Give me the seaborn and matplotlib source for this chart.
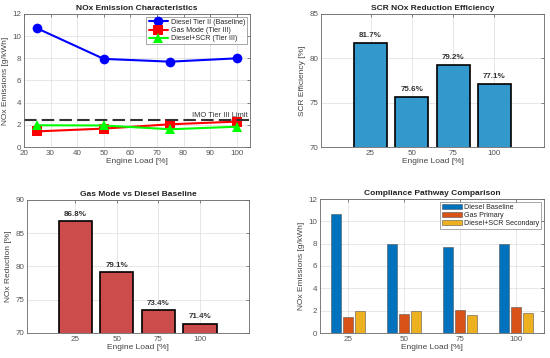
import numpy as np
import pandas as pd
import matplotlib
matplotlib.use('Agg')
import matplotlib.pyplot as plt
import seaborn as sns

# Data
loads = [25, 50, 75, 100]
diesel_nox = [10.7, 7.95, 7.7, 8.0]
gas_nox = [1.41, 1.66, 2.05, 2.29]
scr_nox = [1.96, 1.94, 1.60, 1.83]
imo_limit = 2.4
scr_eff = [81.7, 75.6, 79.2, 77.1]
gas_red = [86.8, 79.1, 73.4, 71.4]

sns.set_style('white')
plt.rcParams['font.family'] = ['Liberation Sans', 'DejaVu Sans']
plt.rcParams['axes.edgecolor'] = '#666666'
plt.rcParams['axes.linewidth'] = 0.6

fig = plt.figure(figsize=(5.5, 3.58), dpi=100)
W, H = 550, 358
def add_ax(l, t, r, b):
    return fig.add_axes([l / W, 1 - b / H, (r - l) / W, (b - t) / H])

ax1 = add_ax(24, 14, 250, 147)
ax2 = add_ax(321, 14, 544, 147)
ax3 = add_ax(27, 200, 249, 333)
ax4 = add_ax(320, 199, 544, 333)

def style(ax, title, xlabel, ylabel):
    ax.set_title(title, fontsize=6, fontweight='bold', pad=3, color='#222222')
    ax.set_xlabel(xlabel, fontsize=6, color='#444444', labelpad=1)
    ax.set_ylabel(ylabel, fontsize=6, color='#444444', labelpad=2)
    ax.tick_params(labelsize=5.8, colors='#555555', direction='in', length=2, width=0.5,
                   top=True, right=True, pad=2)
    ax.grid(True, color='#dddddd', linewidth=0.5)
    ax.set_axisbelow(True)

# Panel 1: line chart
df1 = pd.DataFrame({'load': loads * 3,
                    'nox': diesel_nox + gas_nox + scr_nox,
                    'mode': ['Diesel Tier II (Baseline)'] * 4 + ['Gas Mode (Tier III)'] * 4
                            + ['Diesel+SCR (Tier III)'] * 4})
sns.lineplot(data=df1, x='load', y='nox', hue='mode', style='mode',
             palette=['#0000ff', '#ff0000', '#00ff00'], markers=['o', 's', '^'],
             dashes=False, linewidth=1.5, markersize=7, markeredgewidth=0, ax=ax1)
ax1.axhline(imo_limit, color='#333333', linestyle='--', linewidth=1.5, dashes=(6, 2.5))
ax1.text(83, imo_limit + 0.42, 'IMO Tier III Limit', fontsize=5.4, color='#333333',
         va='center', zorder=5)
ax1.set_xlim(20, 105)
ax1.set_ylim(0, 12)
ax1.set_xticks(range(20, 101, 10))
ax1.set_yticks(range(0, 13, 2))
style(ax1, 'NOx Emission Characteristics', 'Engine Load [%]', 'NOx Emissions [g/kWh]')
leg = ax1.legend(loc='upper right', fontsize=5.1, frameon=True, fancybox=False,
                 edgecolor='#666666', borderpad=0.3, labelspacing=0.15, handlelength=2.8,
                 handletextpad=0.3, borderaxespad=0.4)
leg.get_frame().set_linewidth(0.5)

# Panel 2: SCR efficiency
sns.barplot(x=[str(l) for l in loads], y=scr_eff, color='#3399cc', saturation=1,
            width=0.8, edgecolor='black', linewidth=1.2, ax=ax2)
for i, v in enumerate(scr_eff):
    ax2.text(i, v + 0.5, f'{v:.1f}%', ha='center', va='bottom', fontsize=5.8,
             fontweight='bold', color='#333333')
ax2.set_xlim(-1.2, 4.2)
ax2.set_ylim(70, 85)
ax2.set_yticks([70, 75, 80, 85])
style(ax2, 'SCR NOx Reduction Efficiency', 'Engine Load [%]', 'SCR Efficiency [%]')

# Panel 3: gas vs diesel
sns.barplot(x=[str(l) for l in loads], y=gas_red, color='#cc4c4c', saturation=1,
            width=0.8, edgecolor='black', linewidth=1.2, ax=ax3)
for i, v in enumerate(gas_red):
    ax3.text(i, v + 0.5, f'{v:.1f}%', ha='center', va='bottom', fontsize=5.8,
             fontweight='bold', color='#333333')
ax3.set_xlim(-1.16, 4.18)
ax3.set_ylim(70, 90)
ax3.set_yticks([70, 75, 80, 85, 90])
style(ax3, 'Gas Mode vs Diesel Baseline', 'Engine Load [%]', 'NOx Reduction [%]')

# Panel 4: grouped comparison
df4 = pd.DataFrame({'load': [str(l) for l in loads] * 3,
                    'nox': diesel_nox + gas_nox + scr_nox,
                    'path': ['Diesel Baseline'] * 4 + ['Gas Primary'] * 4
                            + ['Diesel+SCR Secondary'] * 4})
sns.barplot(data=df4, x='load', y='nox', hue='path',
            palette=['#0072bd', '#d95319', '#edb120'], saturation=1,
            width=0.66, gap=0.18, edgecolor='#555555', linewidth=0.4, ax=ax4)
ax4.set_xlim(-0.5, 3.5)
ax4.set_ylim(0, 12)
ax4.set_yticks(range(0, 13, 2))
style(ax4, 'Compliance Pathway Comparison', 'Engine Load [%]', 'NOx Emissions [g/kWh]')
leg = ax4.legend(loc='upper right', fontsize=5.1, frameon=True, fancybox=False,
                 edgecolor='#666666', borderpad=0.3, labelspacing=0.15, handlelength=2.8,
                 handletextpad=0.3, borderaxespad=0.4)
leg.get_frame().set_linewidth(0.5)

fig.savefig('out.png', dpi=100, facecolor='white')
